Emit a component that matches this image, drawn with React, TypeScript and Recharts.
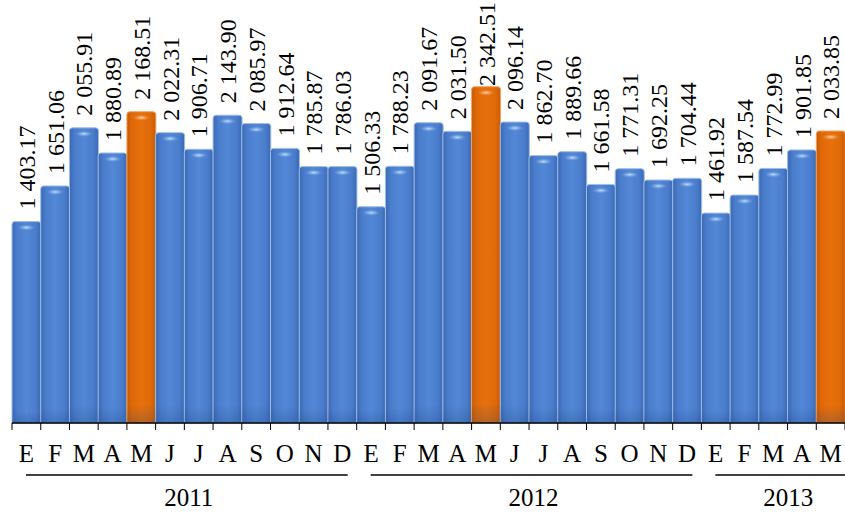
import React from "react";
import { Bar, BarChart, LabelList, XAxis, YAxis } from "recharts";

// monthly values, Jan 2011 .. May 2013 (Spanish month initials)
const months = [
  "E", "F", "M", "A", "M", "J", "J", "A", "S", "O", "N", "D",
  "E", "F", "M", "A", "M", "J", "J", "A", "S", "O", "N", "D",
  "E", "F", "M", "A", "M",
];

const values = [
  1403.17, 1651.06, 2055.91, 1880.89, 2168.51, 2022.31, 1906.71, 2143.9, 2085.97, 1912.64, 1785.87, 1786.03,
  1506.33, 1788.23, 2091.67, 2031.5, 2342.51, 2096.14, 1862.7, 1889.66, 1661.58, 1771.31, 1692.25, 1704.44,
  1461.92, 1587.54, 1772.99, 1901.85, 2033.85,
];

// months drawn in orange (May of each year)
const highlighted = [4, 16, 28];

const years = ["2011", "2012", "2013"];
const yearCounts = [12, 12, 5];

const W = 845;
const H = 512;
const TOP = 21;
const LEFT = 12;
const AXIS_H = 89;
const AXIS_Y = H - AXIS_H;
const BAND = (W - LEFT) / months.length;
const FONT = "'Liberation Serif', 'Times New Roman', serif";

const chartData = values.map((v, i) => ({ id: i, value: v }));

function fmt(v: number) {
  const [int, dec] = v.toFixed(2).split(".");
  return int.replace(/\B(?=(\d{3})+(?!\d))/g, " ") + "." + dec;
}

function BarShape(props: any) {
  const { x, y, width, height, index } = props;
  if (!height || height <= 0) return null;
  const hot = highlighted.includes(index);
  const r = 3;
  const d = `M${x},${y + height} L${x},${y + r} Q${x},${y} ${x + r},${y} L${x + width - r},${y} Q${x + width},${y} ${x + width},${y + r} L${x + width},${y + height} Z`;
  return (
    <g>
      <path
        d={d}
        fill={hot ? "url(#gOrange)" : "url(#gBlue)"}
        stroke={hot ? "#f3a562" : "#9ebde8"}
        strokeWidth={1}
      />
      <path d={d} fill="url(#gShade)" />
      <ellipse
        cx={x + width / 2}
        cy={y + 6}
        rx={width * 0.3}
        ry={3}
        fill={hot ? "url(#hOrange)" : "url(#hBlue)"}
      />
    </g>
  );
}

function ValueLabel(props: any) {
  const { x, y, width, value } = props;
  const tx = x + width / 2 + 8.5;
  const ty = Math.max(y - 12, 86);
  return (
    <text
      x={tx}
      y={ty}
      transform={`rotate(-90 ${tx} ${ty})`}
      textAnchor="start"
      style={{ fontFamily: FONT, fontSize: 24 }}
      fill="#000"
    >
      {fmt(value)}
    </text>
  );
}

function MonthTick(props: any) {
  const { x, payload, index } = props;
  const i = payload.value as number;
  const left = x - BAND / 2;
  let yearPart = null;
  let start = 0;
  years.forEach((yr, k) => {
    if (i === start) {
      const gx0 = left;
      const gx1 = left + yearCounts[k] * BAND;
      const last = k === years.length - 1;
      const lx0 = gx0 + 14;
      const lx1 = last ? gx1 : gx1 - 9;
      yearPart = (
        <g>
          <line x1={lx0} x2={lx1} y1={475} y2={475} stroke="#000" strokeWidth={1.5} />
          <text
            x={(lx0 + lx1) / 2 + (last ? 8 : 2)}
            y={506}
            textAnchor="middle"
            style={{ fontFamily: FONT, fontSize: 25 }}
            fill="#000"
          >
            {yr}
          </text>
        </g>
      );
    }
    start += yearCounts[k];
  });
  return (
    <g key={index}>
      <line x1={left} x2={left} y1={AXIS_Y} y2={AXIS_Y + 7} stroke="#000" strokeWidth={1} />
      {i === months.length - 1 && (
        <line x1={left + BAND} x2={left + BAND} y1={AXIS_Y} y2={AXIS_Y + 7} stroke="#000" strokeWidth={1} />
      )}
      <text x={x} y={462} textAnchor="middle" style={{ fontFamily: FONT, fontSize: 25 }} fill="#000">
        {months[i]}
      </text>
      {yearPart}
    </g>
  );
}

export default function App() {
  return (
    <div style={{ position: "absolute", left: 0, top: 0, width: W, height: H, background: "#fff", fontFamily: FONT }}>
      <BarChart
        width={W}
        height={H}
        data={chartData}
        margin={{ top: TOP, right: 0, bottom: 0, left: LEFT }}
        barCategoryGap={0}
      >
        <defs>
          <linearGradient id="gBlue" x1="0" y1="0" x2="1" y2="0">
            <stop offset="0%" stopColor="#3b69b3" />
            <stop offset="18%" stopColor="#4a7dcc" />
            <stop offset="50%" stopColor="#5288d7" />
            <stop offset="82%" stopColor="#4a7dcc" />
            <stop offset="100%" stopColor="#3b69b3" />
          </linearGradient>
          <linearGradient id="gOrange" x1="0" y1="0" x2="1" y2="0">
            <stop offset="0%" stopColor="#c95a04" />
            <stop offset="18%" stopColor="#df6a09" />
            <stop offset="50%" stopColor="#e8700c" />
            <stop offset="82%" stopColor="#df6a09" />
            <stop offset="100%" stopColor="#c95a04" />
          </linearGradient>
          <linearGradient id="gShade" x1="0" y1="0" x2="0" y2="1">
            <stop offset="94%" stopColor="#1d3f78" stopOpacity={0} />
            <stop offset="100%" stopColor="#1d3f78" stopOpacity={0.25} />
          </linearGradient>
          <radialGradient id="hBlue">
            <stop offset="0%" stopColor="#c4def8" />
            <stop offset="100%" stopColor="#7eaae6" stopOpacity={0} />
          </radialGradient>
          <radialGradient id="hOrange">
            <stop offset="0%" stopColor="#fbd2a6" />
            <stop offset="100%" stopColor="#f39a4c" stopOpacity={0} />
          </radialGradient>
        </defs>
        <XAxis
          dataKey="id"
          type="category"
          height={AXIS_H}
          interval={0}
          tickLine={false}
          axisLine={{ stroke: "#000", strokeWidth: 1.5 }}
          tick={(p: any) => <MonthTick {...p} />}
        />
        <YAxis hide domain={[0, 2800]} />
        <Bar dataKey="value" shape={<BarShape />} isAnimationActive={false}>
          <LabelList dataKey="value" content={<ValueLabel />} />
        </Bar>
      </BarChart>
    </div>
  );
}
